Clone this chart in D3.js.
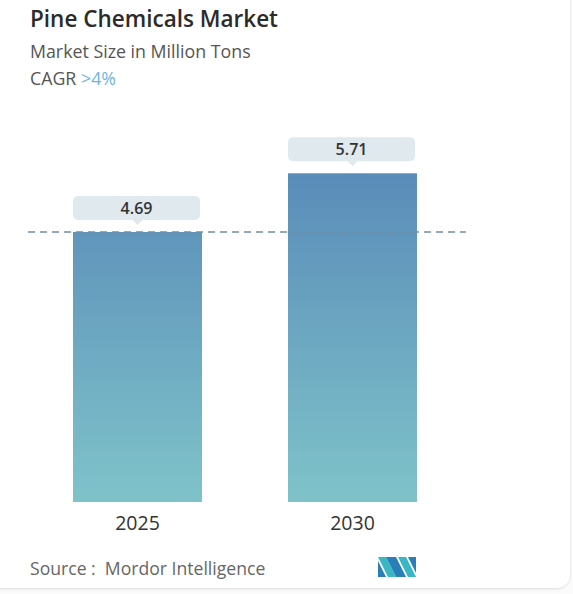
<!DOCTYPE html>
<html>
<head>
<meta charset="utf-8">
<script src="https://cdn.jsdelivr.net/npm/d3@7"></script>
<style>
  html, body { margin: 0; padding: 0; background: #fbfbfb; }
  svg { display: block; }
  text { white-space: pre; }
</style>
</head>
<body>
<svg id="chart" width="573" height="594"></svg>
<script>
// Chart data
const years = ["2025", "2030"];
const values = [4.69, 5.71];
const valueLabels = ["4.69", "5.71"];
const title = "Pine Chemicals Market";
const subtitle = "Market Size in Million Tons";
const cagrPrefix = "CAGR ";
const cagrValue = ">4%";
const sourceText = "Source :  Mordor Intelligence";

const svg = d3.select("#chart");
const font = "'Open Sans', Lato, sans-serif";

// Card background with soft edge
const defs = svg.append("defs");
const shadow = defs.append("filter").attr("id", "cardShadow")
  .attr("x", "-5%").attr("y", "-5%").attr("width", "110%").attr("height", "110%");
shadow.append("feDropShadow").attr("dx", 0).attr("dy", 1).attr("stdDeviation", 1.5)
  .attr("flood-color", "#000").attr("flood-opacity", 0.12);
svg.append("rect").attr("x", -20).attr("y", -20).attr("width", 590).attr("height", 608)
  .attr("rx", 14).attr("fill", "#ffffff").attr("filter", "url(#cardShadow)");

// Bar gradient
const grad = defs.append("linearGradient").attr("id", "barGrad")
  .attr("x1", 0).attr("x2", 0)
  .attr("gradientUnits", "userSpaceOnUse");

// Scales
const baseline = 502;
const x = d3.scaleBand().domain(years).range([73, 417]).paddingInner(0.4).paddingOuter(0);
const y = d3.scaleLinear().domain([0, 4.69]).range([baseline, 232]);

grad.attr("y1", y(d3.max(values))).attr("y2", baseline);
grad.append("stop").attr("offset", "0%").attr("stop-color", "#5a8cb9");
grad.append("stop").attr("offset", "100%").attr("stop-color", "#7fc3c9");

// Titles
svg.append("text").attr("x", 30).attr("y", 27)
  .attr("font-family", font).attr("font-size", 22.5).attr("font-weight", 600)
  .attr("fill", "#2b2b2b").text(title);
svg.append("text").attr("x", 30).attr("y", 58)
  .attr("font-family", font).attr("font-size", 17.8)
  .attr("fill", "#555").text(subtitle);
const cagr = svg.append("text").attr("x", 30).attr("y", 85)
  .attr("font-family", font).attr("font-size", 17.8).attr("fill", "#555");
cagr.append("tspan").text(cagrPrefix);
cagr.append("tspan").attr("fill", "#6db6d8").text(cagrValue);

// Bars
svg.append("g").selectAll("rect").data(values).join("rect")
  .attr("x", (d, i) => x(years[i]))
  .attr("y", d => y(d))
  .attr("width", x.bandwidth())
  .attr("height", d => baseline - y(d))
  .attr("fill", "url(#barGrad)");

// Reference line at the first bar's value
svg.append("line")
  .attr("x1", 28).attr("x2", 466)
  .attr("y1", y(values[0])).attr("y2", y(values[0]))
  .attr("stroke", "#6f8ea8").attr("stroke-width", 1.3)
  .attr("stroke-dasharray", "7,5");

// Value callouts
const callouts = svg.append("g").selectAll("g").data(values).join("g")
  .attr("transform", (d, i) => `translate(${x(years[i]) + x.bandwidth() / 2},${y(d) - 12})`);
callouts.append("rect")
  .attr("x", -x.bandwidth() / 2).attr("y", -24)
  .attr("width", x.bandwidth() - 2).attr("height", 24)
  .attr("rx", 5).attr("fill", "#dfe9ee");
callouts.append("path")
  .attr("d", "M-5,0 L0,5 L5,0 Z").attr("fill", "#dfe9ee");
callouts.append("text")
  .attr("x", -1).attr("y", -6.5)
  .attr("text-anchor", "middle")
  .attr("font-family", font).attr("font-size", 16).attr("font-weight", 600)
  .attr("fill", "#333")
  .text((d, i) => valueLabels[i]);

// Category axis
const xAxis = svg.append("g").attr("transform", `translate(0,${baseline})`)
  .call(d3.axisBottom(x).tickSize(0).tickPadding(10));
xAxis.select(".domain").remove();
xAxis.selectAll("text")
  .attr("font-family", font).attr("font-size", 19.5).attr("fill", "#333")
  .attr("dy", "0.9em");

// Source
svg.append("text").attr("x", 30).attr("y", 575)
  .attr("font-family", font).attr("font-size", 17.6).attr("fill", "#666")
  .text(sourceText);

// Logo mark
const logo = svg.append("g").attr("transform", "translate(378,557)");
logo.append("path").attr("d", "M0,0 L8,0 L18,20 L10,20 Z").attr("fill", "#39b7c4");
logo.append("path").attr("d", "M0,4 L0,20 L8,20 Z").attr("fill", "#2a7fb8");
logo.append("path").attr("d", "M8,0 L18,0 L28,20 L18,20 Z").attr("fill", "#2a7fb8");
logo.append("path").attr("d", "M20,0 L28,0 L38,20 L30,20 Z").attr("fill", "#39b7c4");
logo.append("path").attr("d", "M30,0 L38,0 L38,16 Z").attr("fill", "#2a7fb8");
</script>
</body>
</html>
